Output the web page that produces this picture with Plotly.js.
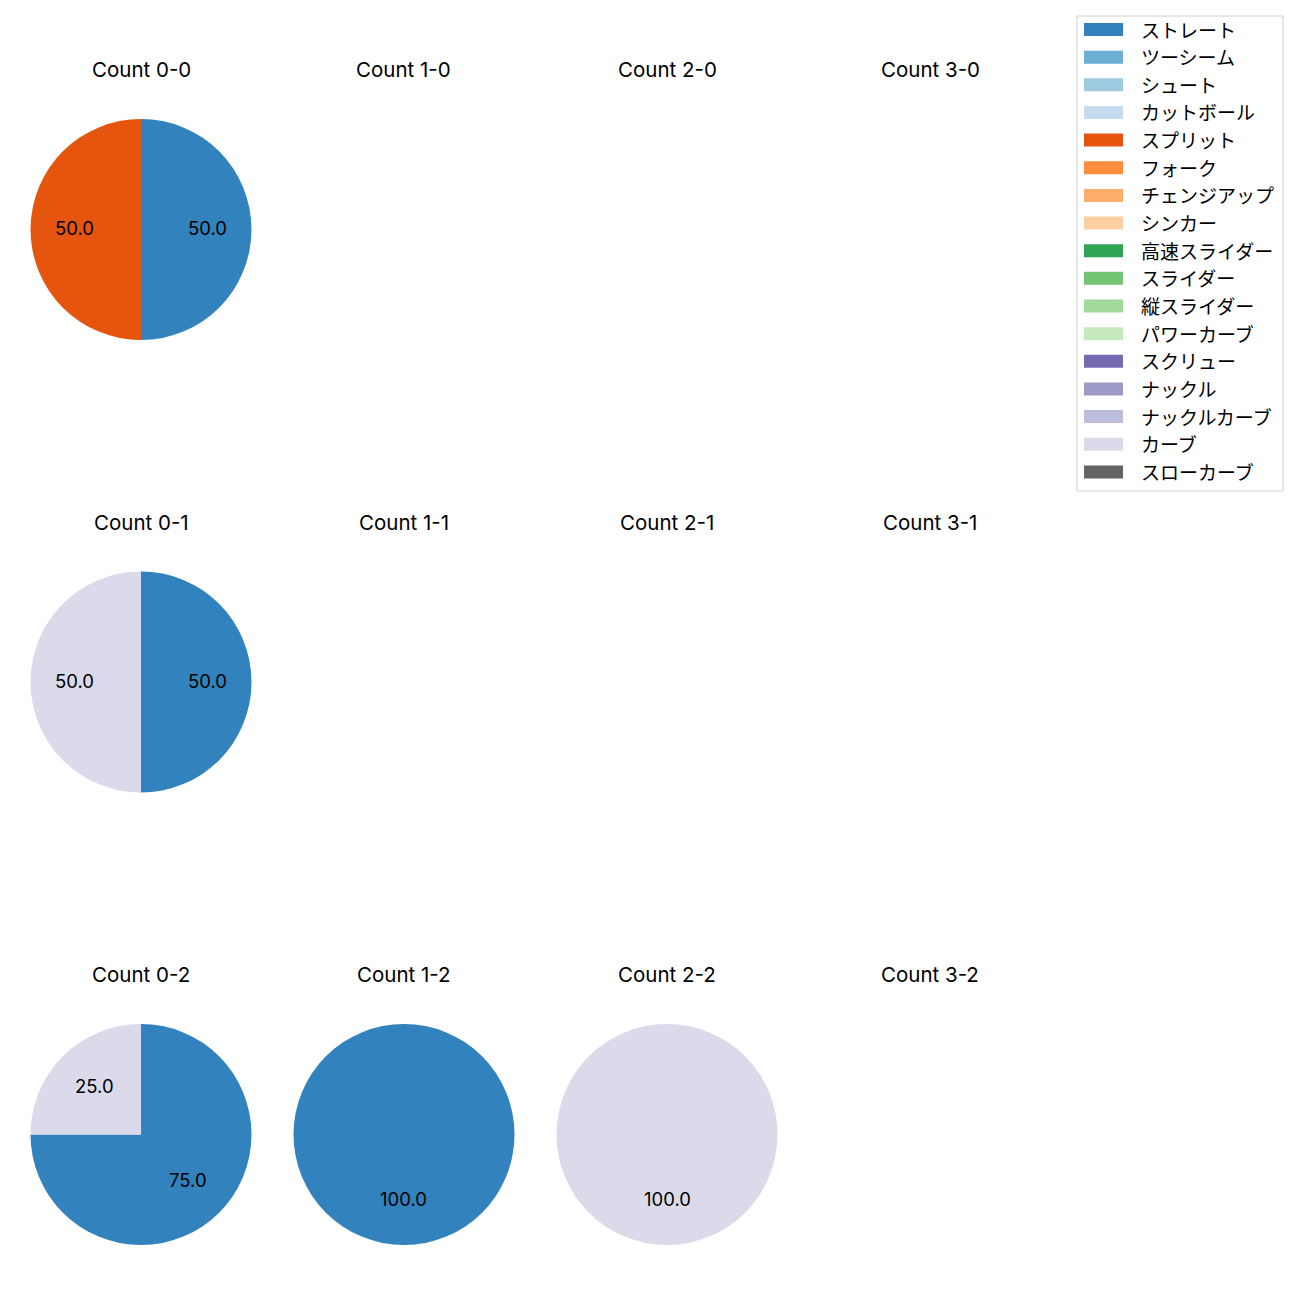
<!DOCTYPE html>
<html>
<head>
<meta charset="utf-8">
<script src="https://cdn.plot.ly/plotly-3.0.1.min.js"></script>
<style>html,body{margin:0;padding:0;background:#fff;}</style>
</head>
<body>
<div id="chart" style="width:1300px;height:1300px;"></div>
<script>
// Pitch types and colours (legend order)
const pitchTypes = ["ストレート","ツーシーム","シュート","カットボール","スプリット","フォーク","チェンジアップ","シンカー","高速スライダー","スライダー","縦スライダー","パワーカーブ","スクリュー","ナックル","ナックルカーブ","カーブ","スローカーブ"];
const pitchColors = ["#3182bd","#6baed6","#9ecae1","#c6dbef","#e6550d","#fd8d3c","#fdae6b","#fdd0a2","#31a354","#74c476","#a1d99b","#c7e9c0","#756bb1","#9e9ac8","#bcbddc","#dadaeb","#636363"];

// Subplot titles (balls-strikes)
const countTitles = [
  ["Count 0-0","Count 1-0","Count 2-0","Count 3-0"],
  ["Count 0-1","Count 1-1","Count 2-1","Count 3-1"],
  ["Count 0-2","Count 1-2","Count 2-2","Count 3-2"]
];

// Percentages per count (pitch type -> share)
const count_0_0_labels = ["ストレート","スプリット"];
const count_0_0_values = [50.0, 50.0];
const count_0_1_labels = ["ストレート","カーブ"];
const count_0_1_values = [50.0, 50.0];
const count_0_2_labels = ["ストレート","カーブ"];
const count_0_2_values = [75.0, 25.0];
const count_1_2_labels = ["ストレート"];
const count_1_2_values = [100.0];
const count_2_2_labels = ["カーブ"];
const count_2_2_values = [100.0];

const pies = [
  {row:0, col:0, labels:count_0_0_labels, values:count_0_0_values},
  {row:1, col:0, labels:count_0_1_labels, values:count_0_1_values},
  {row:2, col:0, labels:count_0_2_labels, values:count_0_2_values},
  {row:2, col:1, labels:count_1_2_labels, values:count_1_2_values},
  {row:2, col:2, labels:count_2_2_labels, values:count_2_2_values}
];

const W = 1300, H = 1300;
const colCenters = [141, 404, 667, 930];
const rowCenters = [229.5, 682, 1134.5];
const R = 110.5;
const titleOffset = 160;
const LATIN = 'Inter, "Noto Sans CJK JP", sans-serif';
const JP = '"Noto Sans CJK JP", sans-serif';

const px = x => x / W;
const py = y => 1 - y / H;
const colorOf = lab => pitchColors[pitchTypes.indexOf(lab)];

const data = [];
const annotations = [];
const shapes = [];

pies.forEach(p => {
  const cx = colCenters[p.col], cy = rowCenters[p.row];
  data.push({
    type: 'pie',
    labels: p.labels,
    values: p.values,
    sort: false,
    direction: 'clockwise',
    rotation: 0,
    marker: {colors: p.labels.map(colorOf), line: {width: 0}},
    textinfo: 'none',
    hoverinfo: 'label+percent',
    showlegend: false,
    domain: {x: [px(cx - R), px(cx + R)], y: [py(cy + R), py(cy - R)]}
  });
  // percent labels at 0.6 radius, centred in each wedge
  const total = p.values.reduce((a, b) => a + b, 0);
  let cum = 0;
  p.values.forEach(v => {
    const mid = (90 - (cum + v / 2) / total * 360) * Math.PI / 180;
    cum += v;
    annotations.push({
      x: px(cx + 0.6 * R * Math.cos(mid)),
      y: py(cy - 0.6 * R * Math.sin(mid) - 1.5),
      xref: 'paper', yref: 'paper',
      text: (v / total * 100).toFixed(1),
      showarrow: false,
      font: {family: LATIN, size: 18.5, color: '#000'},
      xanchor: 'center', yanchor: 'middle'
    });
  });
});

// subplot titles
countTitles.forEach((row, r) => row.forEach((t, c) => {
  annotations.push({
    x: px(colCenters[c]), y: py(rowCenters[r] - titleOffset),
    xref: 'paper', yref: 'paper', text: t, showarrow: false,
    font: {family: LATIN, size: 20.5, color: '#000'},
    xanchor: 'center', yanchor: 'middle'
  });
}));

// legend box
const legLeft = 1077, legRight = 1283, legTop = 16, legBottom = 491;
shapes.push({type: 'rect', xref: 'paper', yref: 'paper',
  x0: px(legLeft), x1: px(legRight), y0: py(legBottom), y1: py(legTop),
  line: {color: '#d0d0d0', width: 1}, fillcolor: 'rgba(255,255,255,0.8)', layer: 'above'});
const firstY = 29.5, stepY = 27.65;
pitchTypes.forEach((lab, i) => {
  const yc = firstY + i * stepY;
  shapes.push({type: 'rect', xref: 'paper', yref: 'paper',
    x0: px(1084), x1: px(1123), y0: py(yc + 6.5), y1: py(yc - 6.5),
    line: {width: 0}, fillcolor: pitchColors[i], layer: 'above'});
  annotations.push({x: px(1139), y: py(yc - 0.5), xref: 'paper', yref: 'paper',
    text: lab, showarrow: false, xanchor: 'left', yanchor: 'middle',
    font: {family: JP, size: 19, color: '#000'}});
});

const layout = {
  width: W, height: H,
  margin: {l: 0, r: 0, t: 0, b: 0},
  paper_bgcolor: '#fff',
  showlegend: false,
  annotations: annotations,
  shapes: shapes,
  font: {family: LATIN}
};

Plotly.newPlot('chart', data, layout, {displayModeBar: false, staticPlot: true});
</script>
</body>
</html>
